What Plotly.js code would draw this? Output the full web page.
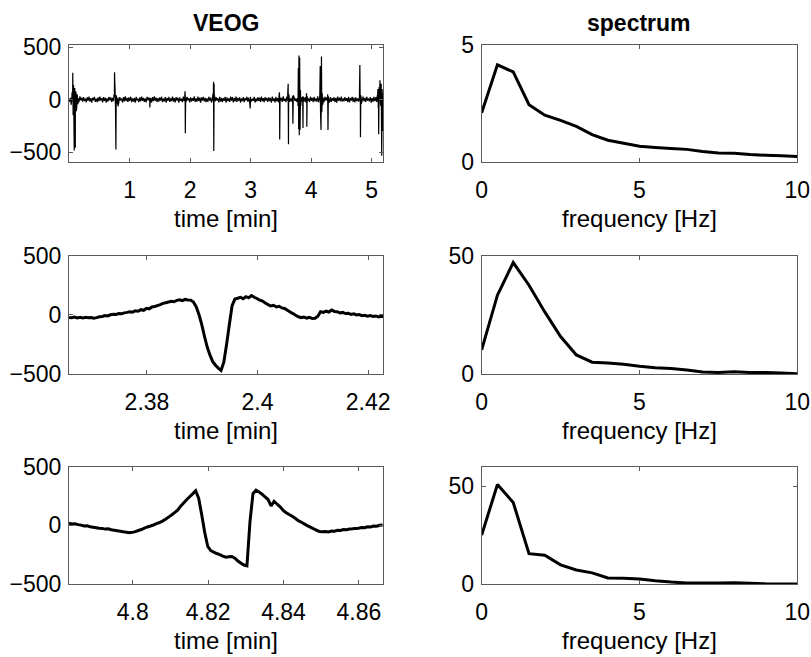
<!DOCTYPE html>
<html>
<head>
<meta charset="utf-8">
<script src="https://cdn.plot.ly/plotly-3.0.1.min.js"></script>
<style>html,body{margin:0;padding:0;background:#fff;}#chart{width:811px;height:657px;}</style>
</head>
<body>
<div id="chart"></div>
<script>
// ---------- DATA ----------
// Overview VEOG: baseline noise sampled every baseStep minutes
var baseStep = 0.015;
var baseVEOG = [
  12,-22,18,-9,27,-17,8,-28,21,-12,
  15,-25,30,-8,19,-20,24,-14,10,-26,
  22,-11,28,-19,13,-30,17,-7,25,-21,
  9,-24,20,-16,29,-10,14,-27,23,-13,
  18,-29,11,-18,26,-8,21,-23,16,-15,
  28,-12,13,-26,19,-20,24,-9,10,-28,
  23,-17,30,-14,15,-22,20,-11,27,-25,
  12,-19,17,-30,25,-10,9,-24,22,-16,
  29,-13,16,-21,11,-27,26,-8,20,-18,
  14,-28,24,-15,30,-12,18,-23,13,-20,
  21,-9,27,-25,10,-17,23,-29,16,-11,
  26,-22,12,-14,28,-19,15,-26,24,-10,
  17,-30,20,-13,9,-24,29,-16,11,-21,
  25,-8,14,-27,22,-18,13,-12,30,-23,
  10,-20,28,-15,18,-29,21,-9,26,-17,
  16,-25,11,-22,27,-11,19,-28,14,-14,
  30,-16,22,-10,12,-26,25,-19,17,-24,
  13,-12,26,-29,20,-14,10,-21,28,-9,
  24,-27,15,-18,29,-22,16,-13,21,-30,
  11,-15,23,-24,14,-8,27,-20,18,-26,
  27,-19,9,-12,25,-28,12,-17,22,-11,
  19,-23,29,-16,13,-25,24,-10,15,-22,
  22,-14,16,-30,28,-13,11,-27,26,-18,
  14,-26,20,-11,17,-21,30,-15,9,-24,
  28,-10,25,-22,12,-18,19,-29,23,-13,
  10,-21,14,-27,26,-9,22,-16,29,-20,
  20,-28,18,-14,11,-23,27,-12,16,-25,
  25,-17,12,-20,30,-26,15,-19,13,-8,
  18,-24,27,-10,21,-15,10,-28,24,-22,
  13,-13,22,-25,16,-30,28,-11,19,-16,
  29,-20,10,-17,23,-12,14,-24,25,-27,
  15,-9,26,-21,18,-28,20,-14,11,-19,
  23,-26,13,-13,29,-16,17,-22,27,-10,
  11,-18,24,-29,14,-20,25,-15,21,-23,
  26,-12,19,-24,10,-27,22,-17,28,-14];
// Spike events (time [min], value)
var spikeTime = [0.035,0.05,0.062,0.068,0.075,0.086,0.095,0.104,0.112,0.122,0.135,0.148,
  0.745,0.752,0.76,0.768,0.775,0.782,0.792,0.81,
  1.335,1.345,
  1.912,1.918,1.922,1.928,
  2.382,2.388,2.393,2.398,2.405,
  2.995,3.0,
  3.472,3.478,3.482,3.488,
  3.615,3.622,3.627,3.633,
  3.695,3.70,3.706,
  3.785,3.79,3.795,3.80,3.806,3.812,3.818,3.825,3.83,
  3.862,3.867,3.873,
  3.925,3.93,3.936,
  4.145,4.152,4.158,4.165,4.172,4.178,4.185,4.195,
  4.275,4.28,4.286,
  4.80,4.807,4.812,4.817,4.823,4.83,
  5.095,5.105,5.112,5.118,5.125,5.14,5.15,5.16,5.168,5.175,5.182,5.19];
var spikeVEOG = [-50,70,255,-150,140,-485,110,-460,80,-110,50,-45,
  50,260,120,-70,-475,40,-45,-65,
  -75,10,
  30,80,-320,20,
  60,170,-490,150,40,
  -85,5,
  40,70,-380,20,
  60,150,-425,50,
  30,-230,40,
  -60,300,-280,420,-340,400,-290,90,-60,
  30,-270,20,
  60,-260,30,
  40,320,-150,-290,410,-120,60,-50,
  50,-290,30,
  50,330,-20,-360,40,-40,
  40,100,-80,-330,120,185,-60,150,-535,100,-300,60];

// Zoom 1: blink around 2.39 min, sampled every zoom1Step minutes from zoom1Start
var zoom1Start = 2.3659, zoom1Step = 0.0005;
var zoom1VEOG = [
  -20,-24,-18,-25,-20,-26,-19,-24,-21,-27,
  -22,-15,-12,-5,-8,2,6,4,12,10,
  18,22,28,24,36,32,45,40,56,52,
  68,72,80,88,99,104,110,116,112,124,
  128,122,132,128,126,110,70,5,-80,-180,
  -272,-340,-395,-425,-450,-470,-400,-250,-80,80,
  135,142,150,138,155,145,165,150,140,125,
  118,102,88,76,82,68,74,60,55,40,
  25,12,-2,-15,-22,-18,-26,-20,-30,-28,
  -10,28,22,32,25,42,30,28,18,22,
  12,15,5,10,0,4,-6,-2,-10,-5,
  -12,-8,-16,-10,-14];

// Zoom 2: blink around 4.82 min, sampled every zoom2Step minutes from zoom2Start
var zoom2Start = 4.7831, zoom2Step = 0.0008;
var zoom2VEOG = [
  17,12,14,6,2,-6,-4,-12,-16,-20,
  -24,-26,-32,-30,-38,-42,-46,-50,-55,-58,
  -62,-60,-54,-44,-36,-24,-14,-6,3,14,
  24,36,52,70,88,108,130,162,190,218,
  244,268,295,230,90,-60,-180,-215,-228,-240,
  -250,-262,-272,-268,-265,-280,-305,-322,-338,-345,
  30,270,300,285,265,242,220,165,205,180,
  158,128,108,92,78,60,40,28,12,-2,
  -15,-28,-40,-52,-55,-52,-56,-48,-50,-42,
  -44,-36,-38,-32,-30,-26,-24,-18,-20,-12,
  -14,-6,-8,0,3];

// Spectra
var freq = [0,0.5,1,1.5,2,2.5,3,3.5,4,4.5,5,5.5,6,6.5,7,7.5,8,8.5,9,9.5,10];
var specAll = [2.1,4.15,3.85,2.45,2.0,1.78,1.52,1.17,0.93,0.8,0.67,0.62,0.58,0.54,0.45,0.39,0.37,0.32,0.29,0.27,0.24];
var specZoom1 = [10.2,33.4,47.2,37.6,26.3,15.9,8.1,5.0,4.7,4.1,3.3,2.7,2.3,1.7,0.9,0.7,1.0,0.7,0.6,0.4,0.1];
var specZoom2 = [25,50.9,41.7,15.5,14.7,9.8,7.2,5.7,3.1,2.9,2.6,1.7,1.0,0.5,0.5,0.5,0.7,0.4,0.1,0,0];

// Tick labels
var overviewTicks = [1,2,3,4,5];
var zoom1Ticks = [2.38,2.4,2.42];
var zoom1TickText = ['2.38','2.4','2.42'];
var zoom2Ticks = [4.8,4.82,4.84,4.86];
var zoom2TickText = ['4.8','4.82','4.84','4.86'];
var veogTicks = [-500,0,500];
var freqTicks = [0,5,10];

// ---------- BUILD ----------
var pts = [];
for (var i = 0; i < baseVEOG.length; i++) pts.push([i * baseStep, baseVEOG[i]]);
for (var j = 0; j < spikeTime.length; j++) pts.push([spikeTime[j], spikeVEOG[j]]);
pts.sort(function(a,b){return a[0]-b[0];});
var ovT = pts.map(function(p){return p[0];});
var ovV = pts.map(function(p){return p[1];});
var zoom1Time = zoom1VEOG.map(function(v,k){return zoom1Start + k*zoom1Step;});
var zoom2Time = zoom2VEOG.map(function(v,k){return zoom2Start + k*zoom2Step;});

var FONT = 'Liberation Sans, Arial, Helvetica, sans-serif';
function ax(extra, standoff) {
  var base = {
    showline: true, mirror: 'allticks', linecolor: '#5a5a5a', linewidth: 1,
    ticks: 'inside', ticklen: 4, tickcolor: '#5a5a5a', tickwidth: 1,
    showgrid: false, zeroline: false,
    tickfont: {family: FONT, size: 23, color: '#000'},
    ticklabelstandoff: standoff
  };
  for (var k in extra) base[k] = extra[k];
  return base;
}
function X(extra) { return ax(extra, 7); }
function Y(extra) { return ax(extra, 2); }
function xt(t) { return {text: t, font: {family: FONT, size: 24, color: '#000'}, standoff: 8}; }

var line = function(w){ return {color: '#000', width: w, simplify: false}; };
var traces = [
  {x: ovT, y: ovV, xaxis: 'x', yaxis: 'y', mode: 'lines', line: line(1.2)},
  {x: freq, y: specAll, xaxis: 'x2', yaxis: 'y2', mode: 'lines', line: line(3)},
  {x: zoom1Time, y: zoom1VEOG, xaxis: 'x3', yaxis: 'y3', mode: 'lines', line: line(3)},
  {x: freq, y: specZoom1, xaxis: 'x4', yaxis: 'y4', mode: 'lines', line: line(3)},
  {x: zoom2Time, y: zoom2VEOG, xaxis: 'x5', yaxis: 'y5', mode: 'lines', line: line(3)},
  {x: freq, y: specZoom2, xaxis: 'x6', yaxis: 'y6', mode: 'lines', line: line(3)}
];

var L = [0.0851, 0.4723], R = [0.5939, 0.9831];
var r1 = [0.7534, 0.9315], r2 = [0.4307, 0.6104], r3 = [0.1111, 0.2897];

var layout = {
  width: 811, height: 657,
  margin: {l: 0, r: 0, t: 0, b: 0},
  paper_bgcolor: '#fff', plot_bgcolor: '#fff',
  showlegend: false,
  font: {family: FONT, color: '#000'},
  xaxis: X({domain: L, anchor: 'y', range: [0, 5.19], tickvals: overviewTicks, title: xt('time [min]')}),
  yaxis: Y({domain: r1, anchor: 'x', range: [-595, 520], tickvals: veogTicks}),
  xaxis2: X({domain: R, anchor: 'y2', range: [0, 10], tickvals: freqTicks, title: xt('frequency [Hz]')}),
  yaxis2: Y({domain: r1, anchor: 'x2', range: [0, 5], tickvals: [0,5]}),
  xaxis3: X({domain: L, anchor: 'y3', range: [2.3659, 2.4227], tickvals: zoom1Ticks, ticktext: zoom1TickText, title: xt('time [min]')}),
  yaxis3: Y({domain: r2, anchor: 'x3', range: [-500, 500], tickvals: veogTicks}),
  xaxis4: X({domain: R, anchor: 'y4', range: [0, 10], tickvals: freqTicks, title: xt('frequency [Hz]')}),
  yaxis4: Y({domain: r2, anchor: 'x4', range: [0, 50], tickvals: [0,50]}),
  xaxis5: X({domain: L, anchor: 'y5', range: [4.7831, 4.8664], tickvals: zoom2Ticks, ticktext: zoom2TickText, title: xt('time [min]')}),
  yaxis5: Y({domain: r3, anchor: 'x5', range: [-500, 500], tickvals: veogTicks}),
  xaxis6: X({domain: R, anchor: 'y6', range: [0, 10], tickvals: freqTicks, title: xt('frequency [Hz]')}),
  yaxis6: Y({domain: r3, anchor: 'x6', range: [0, 60], tickvals: [0,50]}),
  annotations: [
    {text: '<b>VEOG</b>', xref: 'paper', yref: 'paper', x: 0.2787, y: 0.965, xanchor: 'center', yanchor: 'middle',
     showarrow: false, font: {family: FONT, size: 23, color: '#000'}},
    {text: '<b>spectrum</b>', xref: 'paper', yref: 'paper', x: 0.7885, y: 0.965, xanchor: 'center', yanchor: 'middle',
     showarrow: false, font: {family: FONT, size: 23, color: '#000'}}
  ]
};

Plotly.newPlot('chart', traces, layout, {staticPlot: true, displayModeBar: false});
</script>
</body>
</html>
